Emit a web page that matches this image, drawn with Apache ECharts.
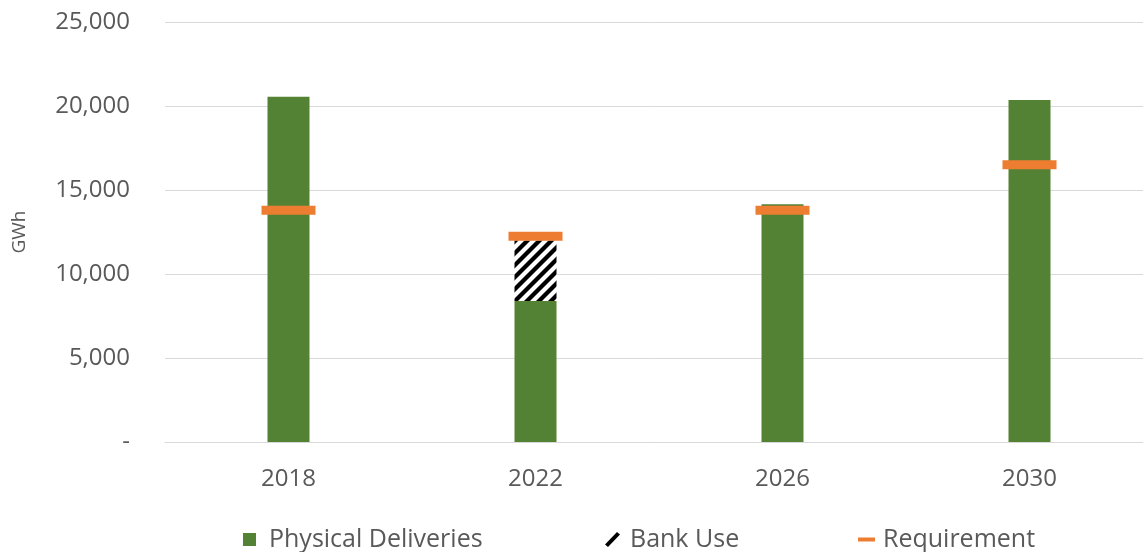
<!DOCTYPE html>
<html>
<head>
<meta charset="utf-8">
<script src="https://cdn.jsdelivr.net/npm/echarts@6/dist/echarts.min.js"></script>
<style>
  html, body { margin: 0; padding: 0; background: #fff; }
  #chart { width: 1143px; height: 552px; }
</style>
</head>
<body>
<div id="chart"></div>
<script>
// Years shown on the category axis
const years = ['2018', '2022', '2026', '2030'];
// GWh delivered from physical generation
const physicalDeliveries = [20550, 8400, 14150, 20350];
// GWh drawn from banked credits (stacked on top of physical deliveries)
const bankUse = [0, 3600, 0, 0];
// Compliance requirement, GWh
const requirement = [13800, 12250, 13800, 16500];
// Value-axis ticks
const yTicks = [0, 5000, 10000, 15000, 20000, 25000];

const FONT = '"Open Sans", "Noto Sans", sans-serif';
const GREEN = '#548235';
const ORANGE = '#ED7D31';
const LABEL = '#595959';

// Diagonal black/white hatch tile for the bank-use segment
function hatchTile() {
  const s = 12;
  const c = document.createElement('canvas');
  c.width = s; c.height = s;
  const g = c.getContext('2d');
  g.fillStyle = '#fff';
  g.fillRect(0, 0, s, s);
  g.strokeStyle = '#000';
  g.lineWidth = 4.2;
  g.lineCap = 'square';
  for (const o of [-s, 0, s]) {
    g.beginPath();
    g.moveTo(o, s);
    g.lineTo(o + s, 0);
    g.stroke();
  }
  return c;
}

const chart = echarts.init(document.getElementById('chart'), null, { renderer: 'canvas' });

const legendText = (gap) => ({ fontFamily: FONT, fontSize: 25, color: LABEL, padding: [0, 0, 0, gap] });

chart.setOption({
  animation: false,
  backgroundColor: '#fff',
  grid: { left: 165, right: -10, top: 22, bottom: 110, containLabel: false, outerBoundsMode: 'none' },
  legend: [
    {
      left: 238, top: 522, itemWidth: 13, itemHeight: 13, itemGap: 0,
      textStyle: legendText(8),
      data: [{ name: 'Physical Deliveries', icon: 'rect' }]
    },
    {
      left: 600, top: 522, itemWidth: 15, itemHeight: 16,
      textStyle: legendText(5),
      data: [{ name: 'Bank Use', icon: 'path://M0,13.5 L12,1 L15,3.5 L3,16 Z', itemStyle: { color: '#000' } }]
    },
    {
      left: 853, top: 522, itemWidth: 17, itemHeight: 4,
      textStyle: legendText(3),
      data: [{ name: 'Requirement', icon: 'rect', itemStyle: { color: ORANGE } }]
    }
  ],
  xAxis: {
    type: 'category',
    data: years,
    axisLine: { show: true, lineStyle: { color: '#d9d9d9', width: 1 } },
    axisTick: { show: false },
    axisLabel: { color: LABEL, fontFamily: FONT, fontSize: 24, margin: 25 }
  },
  yAxis: {
    type: 'value',
    min: yTicks[0],
    max: yTicks[yTicks.length - 1],
    interval: yTicks[1] - yTicks[0],
    name: 'GWh',
    nameLocation: 'middle',
    nameGap: 136,
    nameRotate: 90,
    nameTextStyle: { color: LABEL, fontFamily: FONT, fontSize: 19 },
    axisLine: { show: false },
    axisTick: { show: false },
    splitLine: { lineStyle: { color: '#d9d9d9', width: 1 } },
    axisLabel: {
      color: LABEL, fontFamily: FONT, fontSize: 24, margin: 35,
      formatter: v => (v === 0 ? '-' : v.toLocaleString('en-US'))
    }
  },
  series: [
    {
      name: 'Physical Deliveries',
      type: 'bar',
      stack: 'supply',
      barWidth: 42,
      itemStyle: { color: GREEN },
      data: physicalDeliveries
    },
    {
      name: 'Bank Use',
      type: 'bar',
      stack: 'supply',
      barWidth: 42,
      itemStyle: { color: { image: hatchTile(), repeat: 'repeat' } },
      data: bankUse
    },
    {
      name: 'Requirement',
      type: 'scatter',
      symbol: 'rect',
      symbolSize: [54, 9],
      itemStyle: { color: ORANGE, opacity: 1 },
      z: 5,
      data: requirement
    }
  ]
});
</script>
</body>
</html>
